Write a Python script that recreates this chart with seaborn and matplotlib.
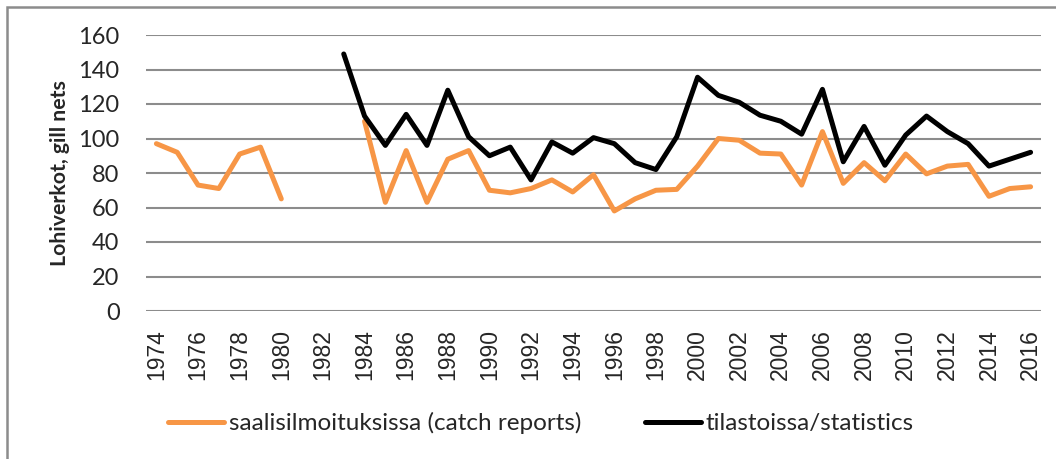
import numpy as np
import pandas as pd
import matplotlib
matplotlib.use("Agg")
import matplotlib.pyplot as plt
import seaborn as sns
from matplotlib.patches import Rectangle

years = list(range(1974, 2017))

# saalisilmoituksissa (catch reports); None = no data
catch_reports = [97, 92, 73, 71, 91, 95, 65, None, None, None,
                 110, 63, 93, 63, 88, 93, 70, 68.5, 71, 76,
                 69, 79, 58, 65, 70, 70.5, 84, 100, 99, 91.5,
                 91, 73, 104, 74, 86, 75.5, 91, 79.5, 84, 85,
                 66.5, 71, 72]

# tilastoissa/statistics
statistics = [None, None, None, None, None, None, None, None, None, 149,
              113, 96, 114, 96, 128, 101, 90, 95, 76, 98,
              91.5, 100.5, 97, 86, 82, 101, 135.5, 125, 121, 113.5,
              110, 102.5, 128.5, 86.5, 107, 84.5, 102, 113, 104, 97,
              84, 88, 92]

df = pd.DataFrame({
    "year": years,
    "saalisilmoituksissa (catch reports)": catch_reports,
    "tilastoissa/statistics": statistics,
})
long = df.melt(id_vars="year", var_name="series", value_name="value")
# split each series at gaps so the line is broken there
long["segment"] = long.groupby("series")["value"].transform(lambda v: v.isna().cumsum())
long = long.dropna(subset=["value"])

sns.set_style("white")
plt.rcParams["font.family"] = ["Lato", "DejaVu Sans"]

fig = plt.figure(figsize=(10.56, 4.59), dpi=100)
ax = fig.add_axes([146 / 1056, 1 - 311 / 459, (1041 - 146) / 1056, (311 - 35) / 459])

colors = {"saalisilmoituksissa (catch reports)": "#F79646",
          "tilastoissa/statistics": "#000000"}
for name, col in colors.items():
    sub = long[long["series"] == name]
    sns.lineplot(data=sub, x="year", y="value", units="segment", estimator=None,
                 color=col, lw=3.6, ax=ax, label=name,
                 solid_capstyle="round", solid_joinstyle="round")

ax.set_xlim(1973.5, 2016.5)
ax.set_ylim(0, 160)
ax.set_yticks(range(0, 161, 20))
ax.set_xticks(years[::2])
ax.set_xticklabels([str(y) for y in years[::2]], rotation=90,
                   fontfamily="Liberation Sans", fontsize=16.5)
ax.tick_params(axis="y", labelsize=17, length=0, pad=19)
ax.tick_params(axis="x", length=0, pad=13)
ax.grid(axis="y", color="#8c8c8c", lw=1.5)
ax.set_axisbelow(True)
for s in ax.spines.values():
    s.set_visible(False)
ax.set_xlabel("")
ax.set_ylabel("Lohiverkot, gill nets", fontsize=15.3, fontweight="bold", labelpad=6)

# one legend entry per series
handles, labels = ax.get_legend_handles_labels()
uniq = dict(zip(labels[::-1], handles[::-1]))
labels = list(colors)
handles = [uniq[l] for l in labels]
ax.get_legend().remove()
fig.legend(handles, labels, loc="center", bbox_to_anchor=(541 / 1056, 1 - 423 / 459),
           ncol=2, frameon=False, fontsize=17.5, handlelength=2.3, handletextpad=0.2,
           columnspacing=2.6)

fig.patches.append(Rectangle((7 / 1056, -0.1), 1.2, 1 - 7 / 459 + 0.1,
                             transform=fig.transFigure, fill=False,
                             edgecolor="#8c8c8c", lw=1.8))

fig.savefig("out.png", dpi=100)
